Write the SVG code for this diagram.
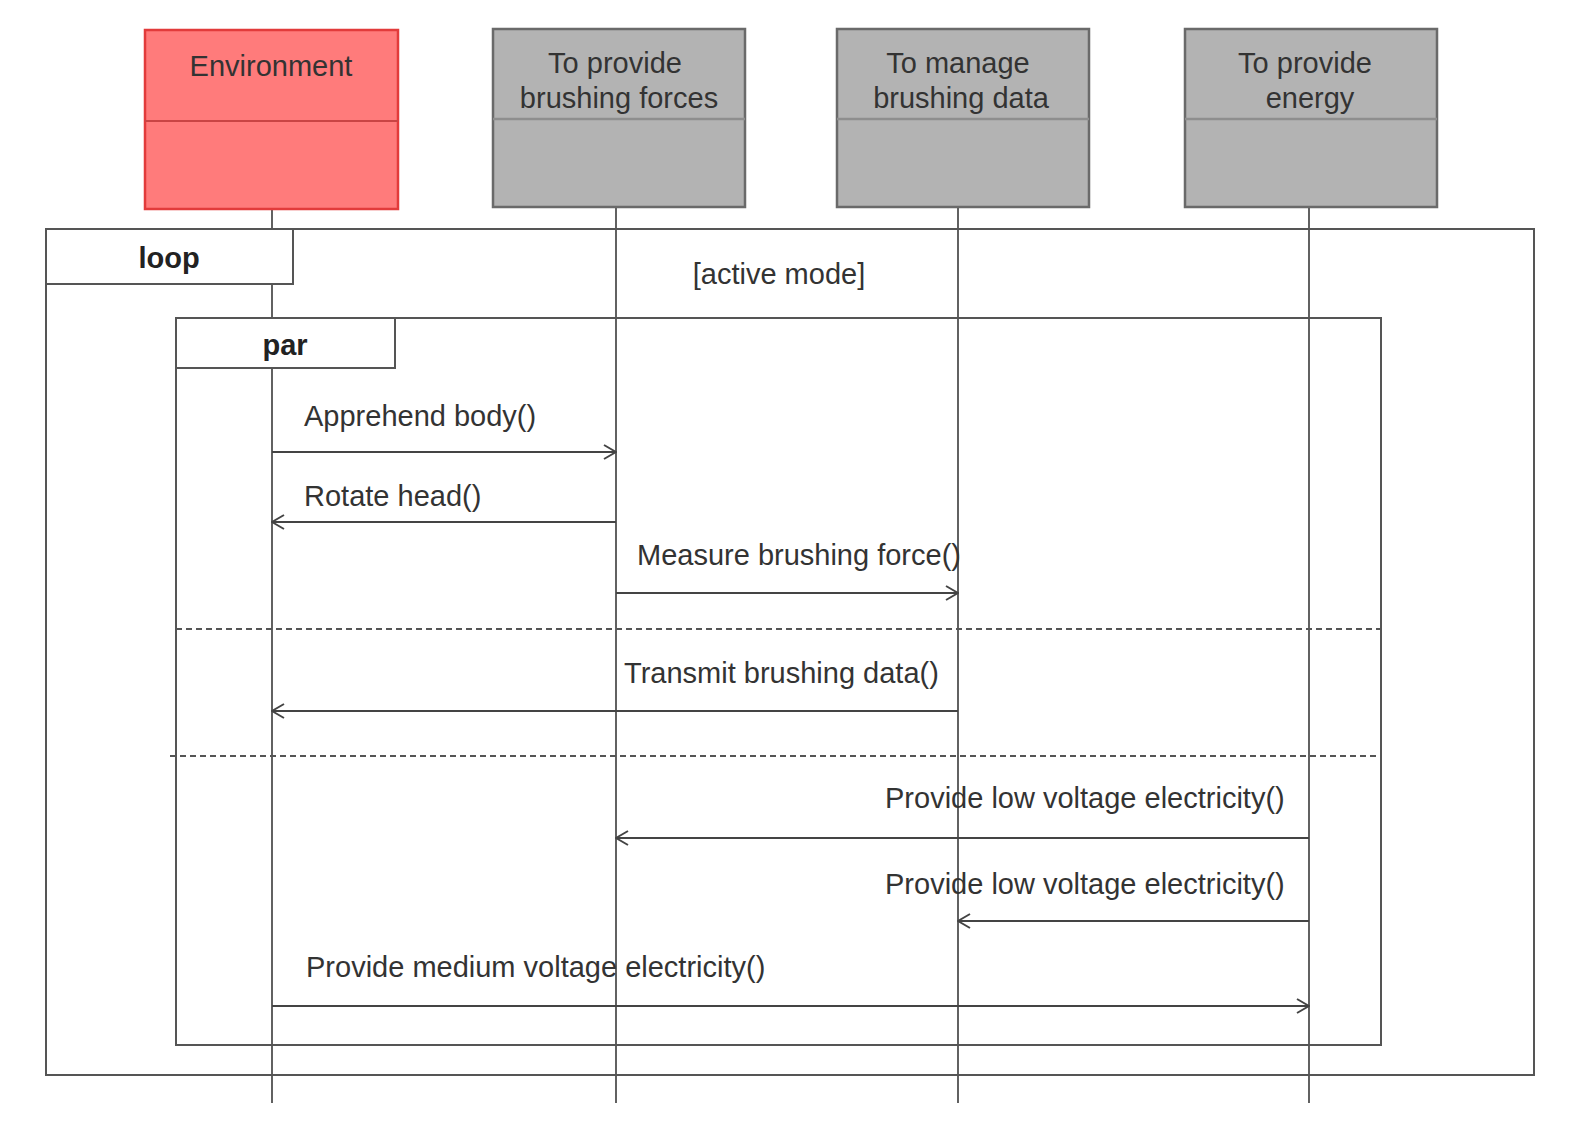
<svg xmlns="http://www.w3.org/2000/svg" width="1586" height="1142" viewBox="0 0 1586 1142">
<style>
text{font-family:"Liberation Sans",Arial,sans-serif;font-size:29px;fill:#333}
.hdr{text-anchor:middle}
.b{font-weight:bold;text-anchor:middle;fill:#222}
.life{stroke:#3a3a3a;stroke-width:1.6;fill:none}
.frame{stroke:#555;stroke-width:2;fill:none}
.tab{stroke:#555;stroke-width:2;fill:#fff}
.dash{stroke:#555;stroke-width:2;stroke-dasharray:6,4;fill:none}
.msg{stroke:#444;stroke-width:2;fill:none;marker-end:url(#open)}
.env{fill:#FF7B7B;stroke:#E23B3B;stroke-width:2.5}
.envdiv{stroke:#C94444;stroke-width:2}
.box{fill:#B3B3B3;stroke:#6A6A6A;stroke-width:2.5}
.boxdiv{stroke:#8E8E8E;stroke-width:2.5}
</style>
<defs>
<marker id="open" markerWidth="14" markerHeight="16" refX="13" refY="8" orient="auto" markerUnits="userSpaceOnUse">
<path d="M1,1 L13,8 L1,15" fill="none" stroke="#444" stroke-width="2"/>
</marker>
</defs>
<rect width="1586" height="1142" fill="#fff"/>

<g id="lifelines">
<line class="life" x1="272" y1="209" x2="272" y2="1103"/>
<line class="life" x1="616" y1="207" x2="616" y2="1103"/>
<line class="life" x1="958" y1="207" x2="958" y2="1103"/>
<line class="life" x1="1309" y1="207" x2="1309" y2="1103"/>
</g>

<g id="loop-frame">
<rect class="frame" x="46" y="229" width="1488" height="846"/>
<rect class="tab" x="46" y="229" width="247" height="55"/>
<text class="b" x="169" y="268">loop</text>
<text class="hdr" x="779" y="284">[active mode]</text>
</g>

<g id="par-frame">
<rect class="frame" x="176" y="318" width="1205" height="727"/>
<rect class="tab" x="176" y="318" width="219" height="50"/>
<text class="b" x="285" y="355">par</text>
<line class="dash" x1="176" y1="629" x2="1381" y2="629"/>
<line class="dash" x1="170" y1="756" x2="1381" y2="756"/>
</g>

<g id="environment">
<rect class="env" x="145" y="30" width="253" height="179"/>
<line class="envdiv" x1="145" y1="121" x2="398" y2="121"/>
<text class="hdr" x="271" y="76">Environment</text>
</g>

<g id="brushing-forces">
<rect class="box" x="493" y="29" width="252" height="178"/>
<line class="boxdiv" x1="493" y1="119" x2="745" y2="119"/>
<text class="hdr" x="615" y="73">To provide</text>
<text class="hdr" x="619" y="108">brushing forces</text>
</g>

<g id="brushing-data">
<rect class="box" x="837" y="29" width="252" height="178"/>
<line class="boxdiv" x1="837" y1="119" x2="1089" y2="119"/>
<text class="hdr" x="958" y="73">To manage</text>
<text class="hdr" x="961" y="108">brushing data</text>
</g>

<g id="energy">
<rect class="box" x="1185" y="29" width="252" height="178"/>
<line class="boxdiv" x1="1185" y1="119" x2="1437" y2="119"/>
<text class="hdr" x="1305" y="73">To provide</text>
<text class="hdr" x="1310" y="108">energy</text>
</g>

<g id="connectors">
<line class="msg" x1="272" y1="452" x2="616" y2="452"/>
<text x="304" y="426">Apprehend body()</text>
<line class="msg" x1="616" y1="522" x2="272" y2="522"/>
<text x="304" y="506">Rotate head()</text>
<line class="msg" x1="616" y1="593" x2="958" y2="593"/>
<text x="637" y="565">Measure brushing force()</text>
<line class="msg" x1="958" y1="711" x2="272" y2="711"/>
<text x="624" y="683">Transmit brushing data()</text>
<line class="msg" x1="1309" y1="838" x2="616" y2="838"/>
<text x="885" y="808">Provide low voltage electricity()</text>
<line class="msg" x1="1309" y1="921" x2="958" y2="921"/>
<text x="885" y="894">Provide low voltage electricity()</text>
<line class="msg" x1="272" y1="1006" x2="1309" y2="1006"/>
<text x="306" y="977">Provide medium voltage electricity()</text>
</g>
</svg>
